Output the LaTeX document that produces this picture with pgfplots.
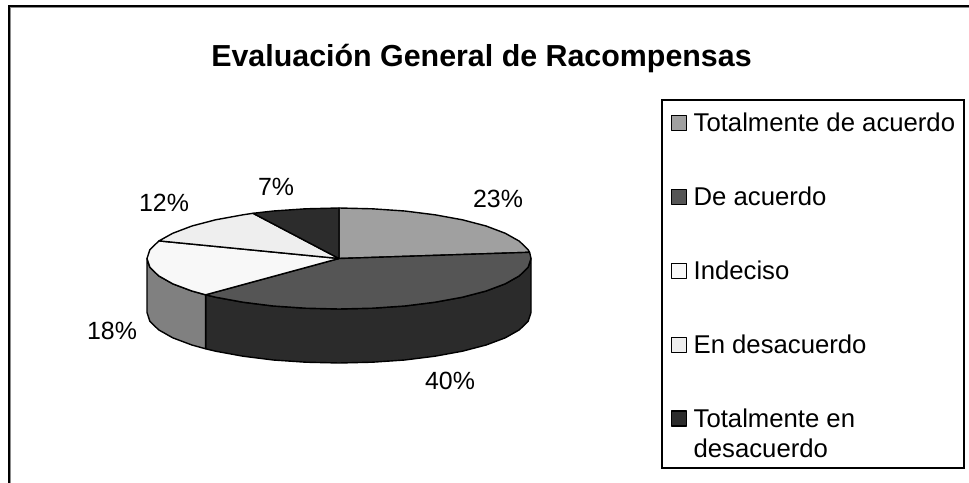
\documentclass[border=0pt]{standalone}
\usepackage{pgfplots}
\usepackage{fontspec}
\setmainfont{Liberation Sans}
\pgfplotsset{compat=1.18}
\definecolor{sA}{HTML}{A0A0A0}
\definecolor{sB}{HTML}{555555}
\definecolor{sBs}{HTML}{2B2B2B}
\definecolor{sC}{HTML}{F8F8F8}
\definecolor{sCs}{HTML}{808080}
\definecolor{sD}{HTML}{EEEEEE}
\definecolor{sE}{HTML}{2C2C2C}
\begin{document}
\begin{tikzpicture}
\useasboundingbox (0,0) rectangle (969bp,483bp);
\begin{axis}[
  at={(0,0)}, anchor=south west,
  scale only axis, width=969bp, height=483bp,
  xmin=0, xmax=969, ymin=0, ymax=483, y dir=reverse,
  hide axis, clip=false,
  every axis plot/.append style={draw=black, line width=1.4bp, line join=round},
  legend image code/.code={\draw[#1,draw=black,line width=1.2bp] (0cm,-0.2646cm) rectangle (0.529cm,0.2646cm);\path[draw=none,fill=none] (0cm,0cm) -- (0.7cm,0cm);},
  legend style={
    at={(axis cs:662,100)}, anchor=north west,
    draw=none, fill=none,
    font=\fontsize{25.8}{31}\selectfont,
    row sep=49.7bp, inner xsep=9bp, inner ysep=11bp,
  },
  legend cell align=left,
]
% sides
\addplot[fill=sBs, forget plot] coordinates {
 (531,258.5)(528.1,267.3)(519.4,275.8)(505.3,283.8)(486.1,291)(462.4,297.2)(435,302.2)(404.7,306)(372.3,308.2)(339,309)
 (305.7,308.2)(273.3,306)(243,302.2)(215.6,297.2)(205.6,294.8)
 (205.6,348.8)(215.6,351.2)(243,356.2)(273.3,360)(305.7,362.2)(339,363)(372.3,362.2)(404.7,360)(435,356.2)(462.4,351.2)
 (486.1,345)(505.3,337.8)(519.4,329.8)(528.1,321.3)(531,312.5)} --cycle;
\addplot[fill=sCs, forget plot] coordinates {
 (205.6,294.8)(191.9,291)(172.7,283.8)(158.6,275.8)(149.9,267.3)(147,258.5)
 (147,312.5)(149.9,321.3)(158.6,329.8)(172.7,337.8)(191.9,345)(205.6,348.8)} --cycle;
% top: Totalmente de acuerdo 23%
\addplot[fill=sA] coordinates {
 (339,258.5)(339,208)(372.3,208.8)(404.7,211)(435,214.8)(462.4,219.8)(486.1,226)(505.3,233.3)(519.4,241.2)(528.1,249.7)(529.6,252.3)} --cycle;
\addlegendentry{Totalmente de acuerdo}
% De acuerdo 40%
\addplot[fill=sB] coordinates {
 (339,258.5)(529.6,252.3)(531,258.5)(528.1,267.3)(519.4,275.8)(505.3,283.8)(486.1,291)(462.4,297.2)(435,302.2)(404.7,306)(372.3,308.2)(339,309)
 (305.7,308.2)(273.3,306)(243,302.2)(215.6,297.2)(205.6,294.8)} --cycle;
\addlegendentry{De acuerdo}
% Indeciso 18%
\addplot[fill=sC] coordinates {
 (339,258.5)(205.6,294.8)(191.9,291)(172.7,283.8)(158.6,275.8)(149.9,267.3)(147,258.5)(149.9,249.7)(158.6,241.2)(159,240.9)} --cycle;
\addlegendentry{Indeciso}
% En desacuerdo 12%
\addplot[fill=sD] coordinates {
 (339,258.5)(159,240.9)(172.7,233.3)(191.9,226)(215.6,219.8)(243,214.8)(253,213.3)} --cycle;
\addlegendentry{En desacuerdo}
% Totalmente en desacuerdo 7%
\addplot[fill=sE] coordinates {
 (339,258.5)(253,213.3)(273.3,211)(305.7,208.8)(339,208)} --cycle;
\addlegendentry{\parbox[t]{260bp}{Totalmente en\\desacuerdo}}
% legend box
\draw[black, line width=1.6bp] (axis cs:662,100) rectangle (axis cs:964,468);
% frame
\draw[black, line width=2bp] (axis cs:9,483) -- (axis cs:9,6) -- (axis cs:969,6);
\draw[black!45, line width=1bp] (axis cs:10.5,483) -- (axis cs:10.5,7.5) -- (axis cs:969,7.5);
% title
\node[font=\fontsize{30.5}{36}\selectfont\bfseries] at (axis cs:481.5,59) {Evaluación General de Racompensas};
% data labels
\begin{scope}[every node/.style={font=\fontsize{25}{30}\selectfont}]
\node at (axis cs:498,199) {23\%};
\node at (axis cs:450,381) {40\%};
\node at (axis cs:112,331) {18\%};
\node at (axis cs:164,203) {12\%};
\node at (axis cs:276,187) {7\%};
\end{scope}
\end{axis}
\end{tikzpicture}
\end{document}
